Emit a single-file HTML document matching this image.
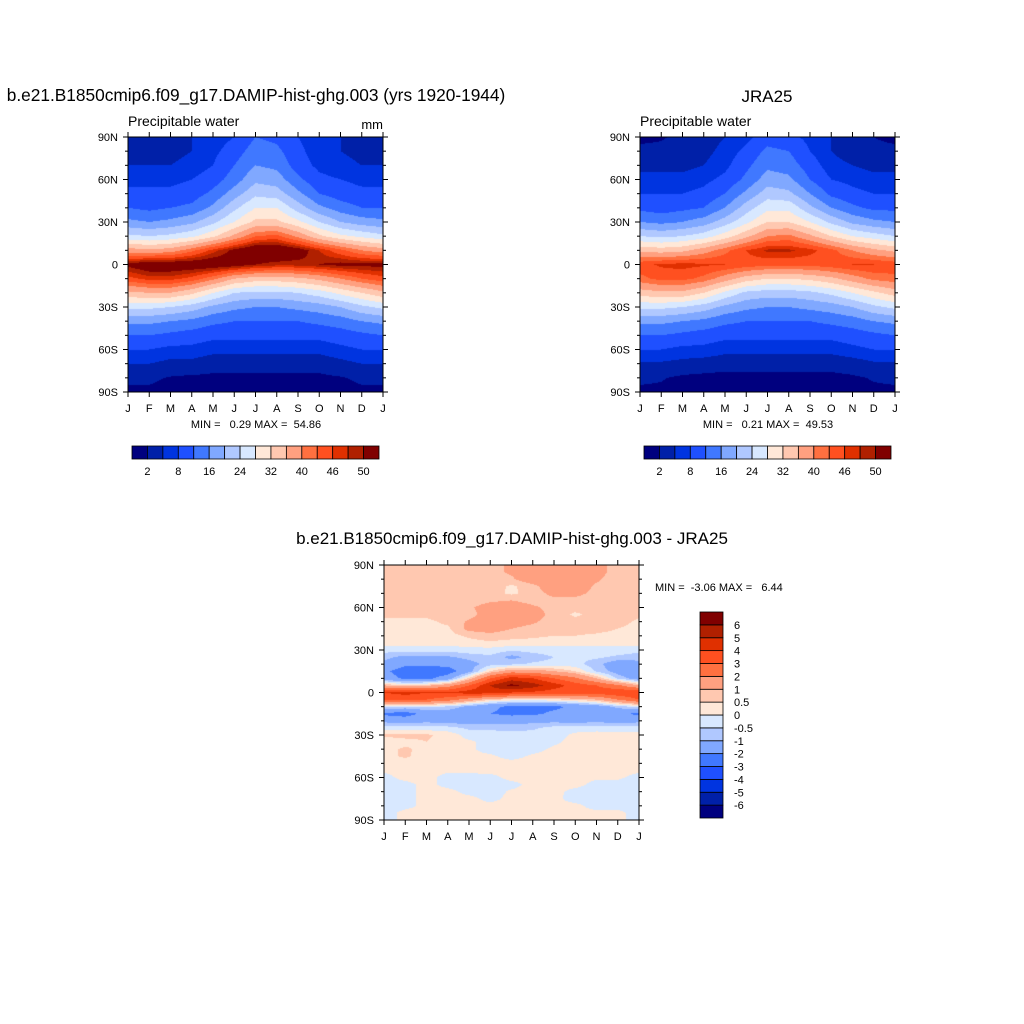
<!DOCTYPE html>
<html><head><meta charset="utf-8"><style>
body{margin:0;background:#fff;width:1024px;height:1024px;overflow:hidden;position:relative;font-family:"Liberation Sans",sans-serif}
canvas{position:absolute}
svg{position:absolute;left:0;top:0}
text{white-space:pre}
</style></head><body>
<canvas id="c1" width="255" height="255" style="left:128px;top:137px"></canvas>
<canvas id="c2" width="255" height="255" style="left:640px;top:137px"></canvas>
<canvas id="c3" width="255" height="255" style="left:384px;top:565px"></canvas>
<svg id="s" width="1024" height="1024" xml:space="preserve"></svg>
<script>
const months=["J","F","M","A","M","J","J","A","S","O","N","D","J"];
const latTicks=["90N","60N","30N","0","30S","60S","90S"];
const pwLevels=[2,5,8,12,16,20,24,28,32,36,40,43,46,48,50];
const pwLabels=["2","8","16","24","32","40","46","50"];
const diffLevels=[-6,-5,-4,-3,-2,-1,-0.5,0,0.5,1,2,3,4,5,6];
const diffLabels=["-6","-5","-4","-3","-2","-1","-0.5","0","0.5","1","2","3","4","5","6"];
const palette=["#00007f","#0020a8","#0034e0","#1f50ff","#4078ff","#80a8ff","#b0c8ff","#d8e8ff","#ffe8d8","#ffc8b0","#ffa080","#ff7040","#ff5020","#e03000","#b02000","#800000"];
const lats10=[90,80,70,60,50,40,30,20,10,0,-10,-20,-30,-40,-50,-60,-70,-80,-90];
const modelPW=[
[4,4,4,5,6,8,12,11,8,6,5,4,4],
[4,4,4,5,7,10,14,13,9,6,5,4,4],
[5,5,5,6,8,12,16,15,10,7,6,5,5],
[7,7,7,8,10,14,19,18,13,9,8,7,7],
[9,9,9,10,13,18,23,22,17,12,10,9,9],
[12,11,12,13,17,23,28,28,22,17,14,12,12],
[17,16,17,19,23,28,33,33,29,24,20,18,17],
[25,24,25,27,31,37,43,44,39,33,29,27,25],
[38,37,38,42,47,51,54,54,52,48,44,40,38],
[51,53,53,53,53,52,50,49,49,50,51,51,51],
[45,47,47,45,41,36,34,34,35,37,40,43,45],
[35,36,36,33,28,24,23,23,24,26,29,32,35],
[25,25,24,22,19,17,16,16,17,18,20,23,25],
[17,17,16,15,13,12,12,12,12,13,14,16,17],
[12,12,11,10,9,9,9,9,9,9,10,11,12],
[8,8,7,7,6,6,6,6,6,6,7,8,8],
[5,5,4,4,3,3,3,3,3,3,4,5,5],
[2.5,2.5,1.8,1.5,1.5,1.5,1.5,1.5,1.5,1.5,1.8,2.5,2.5],
[1.5,1.5,1,1,1,1,1,1,1,1,1,1.5,1.5]];
const jraPW=[
[1.5,1.8,2.5,3.5,5,7,10,9,7,5,3,2,1.5],
[2.5,2.5,3,4,6,9,13,12,8,5,3.5,2.5,2.5],
[4,4,4,5,7,11,15,14,10,6,5,4,4],
[6,6,6,7,9,13,18,17,12,8,7,6,6],
[8,8,8,9,12,17,22,21,16,11,9,8,8],
[11,10,11,12,16,22,27,27,21,16,13,11,11],
[16,15,16,18,22,27,32,32,28,23,19,17,16],
[24,23,24,26,30,35,40,41,37,32,28,26,24],
[35,34,35,38,42,46,48.5,48.5,47,44,40,37,35],
[45,46.5,47,46.5,46,45,44,44,44,45,46,46,45],
[42,44,44,42,38,34,32,32,33,35,38,41,42],
[34,35,35,32,27,23,22,22,23,25,28,31,34],
[25,25,24,22,19,17,16,16,17,18,20,23,25],
[17,17,16,15,13,12,12,12,12,13,14,16,17],
[12,12,11,10,9,9,9,9,9,9,10,11,12],
[8,8,7,7,6,6,6,6,6,6,7,8,8],
[4.5,4.5,4,3.5,3,3,3,3,3,3,3.5,4.5,4.5],
[2.5,2.2,1.5,1.3,1.2,1.2,1.2,1.2,1.2,1.3,1.6,2.2,2.5],
[1.5,1.5,1,1,1,1,1,1,1,1,1,1.5,1.5]];
const lats5=[90,85,80,75,70,65,60,55,50,45,40,35,30,25,20,15,10,5,0,-5,-10,-15,-20,-25,-30,-35,-40,-45,-50,-55,-60,-65,-70,-75,-80,-85,-90];
const diffPW=[
[0.7,0.7,0.7,0.7,0.7,0.8,1.1,1.5,1.5,1.5,1.2,0.8,0.7],
[0.7,0.7,0.7,0.7,0.7,0.8,1.1,1.5,1.6,1.5,1.2,0.8,0.7],
[0.7,0.7,0.7,0.7,0.7,0.8,0.9,1.5,1.6,1.5,1.1,0.7,0.7],
[0.7,0.7,0.7,0.7,0.7,0.8,0.4,0.8,1.5,1.4,0.9,0.7,0.7],
[0.7,0.7,0.7,0.7,0.7,0.7,0.4,0.7,1.2,1.2,0.8,0.7,0.7],
[0.7,0.7,0.7,0.7,0.7,0.9,1.0,0.8,0.8,0.8,0.7,0.7,0.7],
[0.7,0.7,0.7,0.7,0.9,1.3,1.4,1.1,0.8,0.7,0.7,0.7,0.7],
[0.6,0.6,0.6,0.7,0.8,1.3,1.5,1.3,0.8,0.4,0.7,0.7,0.6],
[0.4,0.4,0.4,0.6,1.1,1.4,1.3,1.1,0.7,0.7,0.7,0.7,0.4],
[0.3,0.3,0.4,0.4,1.2,1.3,1.0,0.8,0.7,0.7,0.7,0.5,0.3],
[0.3,0.3,0.4,0.3,0.6,0.8,0.7,0.6,0.5,0.5,0.4,0.3,0.3],
[0.2,0.2,0.2,0.2,0.3,0.4,0.3,0.3,0.2,0.2,0.2,0.2,0.2],
[-0.3,-0.3,-0.3,-0.3,-0.2,-0.2,-0.4,-0.3,-0.2,-0.2,-0.2,-0.2,-0.3],
[-0.8,-1.2,-1.2,-1.1,-0.8,-0.6,-1.2,-0.8,-0.5,-0.4,-0.4,-0.6,-0.8],
[-1.2,-1.8,-1.8,-1.7,-1.3,-0.7,-0.6,-0.4,-0.3,-0.3,-0.8,-1.5,-1.2],
[-1.8,-2.5,-2.6,-2.5,-1.3,0.5,1.5,1.4,1.0,0.5,-0.6,-1.3,-1.8],
[-1.5,-2.2,-2.3,-1.5,0.6,3,4.5,4,3,2.2,1,-0.6,-1.5],
[1,0.5,0.8,1.5,3,5,6.3,5.5,4.5,3.5,3,2.2,1],
[4,4.5,4,4,4.5,4.5,4,3.8,3.5,3.5,3.5,3.8,4],
[3,3,3,2.5,1.5,0.6,0.3,0.2,0.4,0.6,1,2,3],
[-0.3,-0.5,-0.4,-0.6,-1.2,-1.8,-2.2,-2.3,-2.2,-1.8,-1.5,-0.8,-0.3],
[-2.2,-2.5,-1.6,-1.5,-1.8,-2.0,-2.2,-2.2,-1.8,-1.7,-1.6,-1.8,-2.2],
[-1.2,-1.3,-1.2,-1.3,-1.4,-1.3,-1.4,-1.2,-1.2,-1.3,-1.2,-1.3,-1.2],
[-0.3,-0.3,-0.3,-0.3,-0.6,-0.6,-0.6,-0.6,-0.3,-0.2,-0.2,-0.3,-0.3],
[0.6,0.7,0.6,0.3,-0.2,-0.3,-0.4,-0.3,-0.2,0.1,0.2,0.2,0.2],
[0.2,0.3,0.5,0.2,0.1,-0.2,-0.3,-0.3,-0.1,0.2,0.2,0.2,0.2],
[0.3,0.6,0.3,0.2,0.1,-0.2,-0.4,-0.2,0.1,0.2,0.2,0.2,0.3],
[0.3,0.6,0.2,0.1,0.1,0.1,-0.2,0.1,0.2,0.2,0.2,0.2,0.3],
[0.1,0.2,0.2,0.1,0.2,0.2,0.2,0.2,0.2,0.2,0.2,0.2,0.1],
[0.1,0.2,0.2,0.1,0.2,0.2,0.2,0.2,0.2,0.2,0.2,0.2,0.1],
[-0.2,0.2,0.2,-0.2,-0.3,-0.2,0.2,0.2,0.2,0.2,0.1,0.1,-0.2],
[-0.3,-0.2,0.2,-0.2,-0.3,-0.3,-0.2,0.2,0.2,0.2,-0.2,-0.2,-0.3],
[-0.3,-0.2,0.2,0.2,-0.2,-0.3,0.1,0.2,0.2,-0.2,-0.3,-0.3,-0.3],
[-0.3,-0.2,0.2,0.2,0.2,-0.2,0.2,0.2,0.2,-0.3,-0.3,-0.3,-0.3],
[-0.3,-0.2,0.2,0.2,0.2,0.2,0.2,0.2,0.2,0.2,-0.3,-0.3,-0.3],
[-0.3,0.2,0.2,0.2,0.2,0.2,0.2,0.2,0.2,0.2,0.2,0.2,-0.3],
[-0.3,0.2,0.2,0.2,0.2,0.2,0.2,0.2,0.2,0.2,0.2,0.2,-0.3]];

function hex(c){return [parseInt(c.slice(1,3),16),parseInt(c.slice(3,5),16),parseInt(c.slice(5,7),16)];}
function classify(v,levels){let k=0;while(k<levels.length&&v>=levels[k])k++;return k;}
function fillField(id,lats,data,levels){
  const cv=document.getElementById(id),ctx=cv.getContext('2d');
  const W=cv.width,H=cv.height,img=ctx.createImageData(W,H);
  const step=lats[0]-lats[1];
  for(let py=0;py<H;py++){
    const lat=90-(py+0.5)/H*180;
    let r=(90-lat)/step;let r0=Math.min(Math.floor(r),lats.length-2);const fr=r-r0;
    for(let px=0;px<W;px++){
      const m=(px+0.5)/W*12;let c0=Math.min(Math.floor(m),11);const fc=m-c0;
      const v=(data[r0][c0]*(1-fc)+data[r0][c0+1]*fc)*(1-fr)+(data[r0+1][c0]*(1-fc)+data[r0+1][c0+1]*fc)*fr;
      const col=hex(palette[classify(v,levels)]);
      const i=(py*W+px)*4;img.data[i]=col[0];img.data[i+1]=col[1];img.data[i+2]=col[2];img.data[i+3]=255;
    }
  }
  ctx.putImageData(img,0,0);
}
fillField('c1',lats10,modelPW,pwLevels);
fillField('c2',lats10,jraPW,pwLevels);
fillField('c3',lats5,diffPW,diffLevels);

const S=document.getElementById('s'),NS="http://www.w3.org/2000/svg";
function el(tag,attrs,parent){const e=document.createElementNS(NS,tag);for(const k in attrs)e.setAttribute(k,attrs[k]);(parent||S).appendChild(e);return e;}
function txt(x,y,s,size,anchor,name){const t=el('text',{x:x,y:y,'font-size':size,'text-anchor':anchor||'start','font-family':'Liberation Sans, sans-serif',fill:'#000'});t.textContent=s;


return t;}
function axes(x0,y0,w,h,pfx){
  const g=el('g',{});
  
  
  el('rect',{x:x0,y:y0,width:w,height:h,fill:'none',stroke:'#000','stroke-width':1},g);
  const xs=i=>x0+i*w/12, ys=lat=>y0+(90-lat)/180*h;
  for(let i=0;i<13;i++){
    el('line',{x1:xs(i),x2:xs(i),y1:y0+h,y2:y0+h+5,stroke:'#000'},g);
    el('line',{x1:xs(i),x2:xs(i),y1:y0,y2:y0-5,stroke:'#000'},g);
    txt(xs(i),y0+h+20,months[i],11,'middle',pfx+'-x-tick-label');
  }
  for(let lat=90;lat>=-90;lat-=10){
    const major=lat%30===0,L=major?5:3;
    el('line',{x1:x0,x2:x0-L,y1:ys(lat),y2:ys(lat),stroke:'#000'},g);
    el('line',{x1:x0+w,x2:x0+w+L,y1:ys(lat),y2:ys(lat),stroke:'#000'},g);
  }
  latTicks.forEach((s,i)=>txt(x0-10,ys(90-30*i)+4,s,11,'end',pfx+'-y-tick-label'));
}
axes(128,137,255,255,'model');
axes(640,137,255,255,'jra25');
axes(384,565,255,255,'diff');

txt(256,101,"b.e21.B1850cmip6.f09_g17.DAMIP-hist-ghg.003 (yrs 1920-1944)",17.3,'middle','model-title');
txt(767,102,"JRA25",17,'middle','jra25-title');
txt(128,126,"Precipitable water",14,'start','model-variable-label');
txt(383,129,"mm",13,'end','model-units-label');
txt(640,126,"Precipitable water",14,'start','jra25-variable-label');
txt(256,428,"MIN =   0.29 MAX =  54.86",11,'middle','model-min-max');
txt(768,428,"MIN =   0.21 MAX =  49.53",11,'middle','jra25-min-max');
txt(512,544,"b.e21.B1850cmip6.f09_g17.DAMIP-hist-ghg.003 - JRA25",17,'middle','diff-title');
txt(655,591,"MIN =  -3.06 MAX =   6.44",11,'start','diff-min-max');

function hbar(x0,pfx){
  const w=247/16;
  for(let k=0;k<16;k++){
    const r=el('rect',{x:x0+k*w,y:446,width:w,height:13,fill:palette[k],stroke:'#000','stroke-width':0.8});
    
    
  }
  pwLabels.forEach((s,i)=>txt(x0+(2*i+1)*w,475,s,11,'middle',pfx+'-colorbar-label'));
}
hbar(132,'model');hbar(644,'jra25');
const vh=206/16;
for(let k=0;k<16;k++){
  const r=el('rect',{x:700,y:612+(15-k)*vh,width:23,height:vh,fill:palette[k],stroke:'#000','stroke-width':0.8});
  
  
}
diffLabels.forEach((s,i)=>txt(734,612+(15-i)*vh+4,s,11,'start','diff-colorbar-label'));
</script>
</body></html>
